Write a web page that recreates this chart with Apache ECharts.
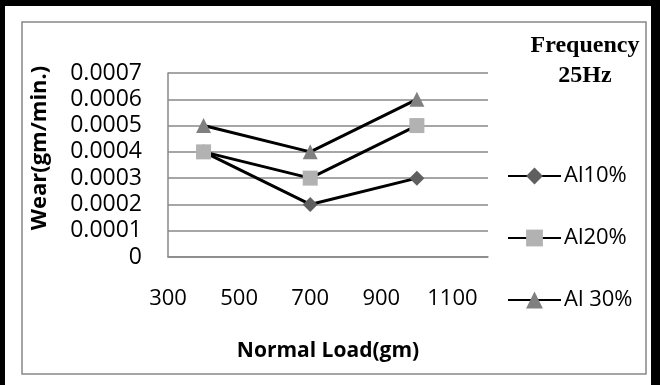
<!DOCTYPE html>
<html>
<head>
<meta charset="utf-8">
<script src="https://cdn.jsdelivr.net/npm/echarts@6/dist/echarts.min.js"></script>
<style>
  html, body { margin: 0; padding: 0; background: #fff; }
  #chart { width: 660px; height: 385px; }
</style>
</head>
<body>
<div id="chart"></div>
<script>
// values
const loads = [400, 700, 1000];
const al10 = [0.0004, 0.0002, 0.0003];
const al20 = [0.0004, 0.0003, 0.0005];
const al30 = [0.0005, 0.0004, 0.0006];
const seriesNames = ['Al10%', 'Al20%', 'Al 30%'];

const font = 'Open Sans';

const pairs = (ys) => loads.map((x, i) => [x, ys[i]]);

const chart = echarts.init(document.getElementById('chart'));

function lineSeries(name, ys, symbol, color, size) {
	return {
		name: name,
		type: 'line',
		data: pairs(ys),
		symbol: symbol,
		symbolSize: size,
		lineStyle: { color: '#000', width: 3 },
		itemStyle: { color: color },
		animation: false
	};
}

// excel puts the legend entries one by one down the right side
function legendAt(name, top) {
	return {
		data: [name],
		left: 502,
		top: top,
		itemWidth: 53,
		itemHeight: 21,
		itemGap: 0,
		textStyle: { fontFamily: font, fontSize: 22, color: '#000', padding: [0, 0, 0, -2] },
		selectedMode: false
	};
}

const option = {
	backgroundColor: '#fff',
	title: {
		text: 'Frequency\n25Hz',
		left: 580,
		top: 26,
		textAlign: 'center',
		textStyle: {
			fontFamily: 'Liberation Serif',
			fontWeight: 'bold',
			fontSize: 24,
			lineHeight: 30,
			color: '#000'
		}
	},
	legend: [
		legendAt(seriesNames[0], 160),
		legendAt(seriesNames[1], 222),
		legendAt(seriesNames[2], 284)
	],
	grid: { left: 168, top: 73, right: 172, bottom: 128 },
	xAxis: {
		type: 'value',
		min: 300,
		max: 1200,
		interval: 200,
		name: 'Normal Load(gm)',
		nameLocation: 'middle',
		nameGap: 84,
		nameTextStyle: { fontFamily: font, fontWeight: 'bold', fontSize: 21, color: '#000' },
		axisLine: { show: true, onZero: false, lineStyle: { color: '#888', width: 1.5 } },
		axisTick: { show: false },
		splitLine: { show: false },
		axisLabel: {
			margin: 31,
			fontFamily: font,
			fontSize: 22,
			color: '#000',
			showMinLabel: true,
			showMaxLabel: false,
			formatter: (v) => (v > 1100 ? '' : String(v))
		}
	},
	yAxis: {
		type: 'value',
		min: 0,
		max: 0.0007,
		interval: 0.0001,
		axisLine: { show: true, lineStyle: { color: '#888', width: 1.5 } },
		axisTick: { show: false },
		axisLabel: {
			margin: 26,
			fontFamily: font,
			fontSize: 23,
			color: '#000',
			formatter: (v) => (v === 0 ? '0' : v.toFixed(4))
		},
		splitLine: { lineStyle: { color: '#888', width: 1.5 } }
	},
	graphic: [
		// outer black frame (top, left, right)
		{ type: 'rect', shape: { x: 0, y: 0, width: 660, height: 6 }, style: { fill: '#000' }, silent: true },
		{ type: 'rect', shape: { x: 0, y: 0, width: 5, height: 385 }, style: { fill: '#000' }, silent: true },
		{ type: 'rect', shape: { x: 651, y: 0, width: 9, height: 385 }, style: { fill: '#000' }, silent: true },
		// inner grey chart-area frame
		{
			type: 'rect',
			shape: { x: 22, y: 22, width: 624, height: 352 },
			style: { fill: 'none', stroke: '#888', lineWidth: 1.5 },
			silent: true
		},
		// y axis title sits higher than the plot middle
		{
			type: 'text',
			x: 40,
			y: 148,
			rotation: Math.PI / 2,
			style: {
				text: 'Wear(gm/min.)',
				align: 'center',
				verticalAlign: 'middle',
				fontFamily: font,
				fontWeight: 'bold',
				fontSize: 22,
				fill: '#000'
			},
			silent: true
		}
	],
	series: [
		lineSeries(seriesNames[0], al10, 'diamond', '#5f5f5f', 15),
		lineSeries(seriesNames[1], al20, 'rect', '#b2b2b2', 15),
		lineSeries(seriesNames[2], al30, 'triangle', '#808080', 15)
	]
};

chart.setOption(option);
</script>
</body>
</html>
